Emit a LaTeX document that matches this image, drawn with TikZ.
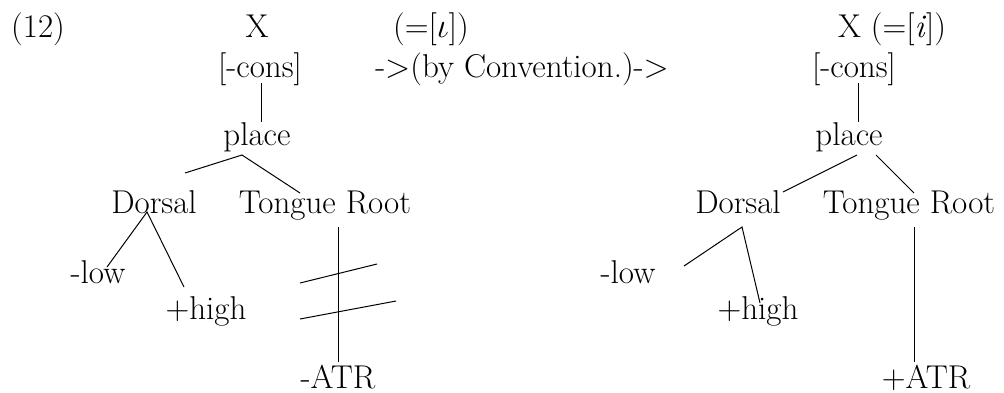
\documentclass[tikz,border=0pt]{standalone}
\usepackage{fontspec}
\begin{document}
\begin{tikzpicture}[x=0.5pt,y=-0.5pt,
  lbl/.style={anchor=base,inner sep=0pt,outer sep=0pt,font=\fontsize{16.5}{19}\selectfont},
  edge/.style={line width=0.5pt}]
\useasboundingbox (0,0) rectangle (1004,392);
% left tree
\node[lbl] (num) at (38,37) {(12)};
\node[lbl] (xl) at (257,37) {X};
\node[lbl] (eql) at (431,37) {(=[$\iota$])};
\node[lbl] (consl) at (260,77) {[-cons]};
\node[lbl] (conv) at (522,77) {->(by Convention.)->};
\node[lbl] (placel) at (257,145) {place};
\node[lbl] (dorl) at (154,213) {Dorsal};
\node[lbl] (trl) at (325,213) {Tongue Root};
\node[lbl] (lowl) at (98,283) {-low};
\node[lbl] (highl) at (206,319) {+high};
\node[lbl] (atrl) at (338,388) {-ATR};
% right tree
\node[lbl] (xr) at (892,37) {X (=[\textit{i}])};
\node[lbl] (consr) at (854,77) {[-cons]};
\node[lbl] (placer) at (849,145) {place};
\node[lbl] (dorr) at (738,213) {Dorsal};
\node[lbl] (trr) at (909,213) {Tongue Root};
\node[lbl] (lowr) at (628,283) {-low};
\node[lbl] (highr) at (758,319) {+high};
\node[lbl] (atrr) at (926,388) {+ATR};
% connector end points (left)
\coordinate (cl1) at (261,83);  \coordinate (pl0) at (261,122);
\coordinate (pl1) at (242,155); \coordinate (dl0) at (185,173);
\coordinate (tl0) at (300,193);
\coordinate (dl1) at (147,212); \coordinate (ll0) at (107,267);
\coordinate (hl0) at (184,287);
\coordinate (tl1) at (338,227); \coordinate (al0) at (338,362);
\coordinate (s1a) at (300,283); \coordinate (s1b) at (377,264);
\coordinate (s2a) at (300,319); \coordinate (s2b) at (396,301);
% connector end points (right)
\coordinate (cr1) at (858,83);  \coordinate (pr0) at (858,122);
\coordinate (pr1) at (857,155); \coordinate (dr0) at (783,192);
\coordinate (pr2) at (876,155); \coordinate (tr0) at (914,193);
\coordinate (dr1) at (742,227); \coordinate (lr0) at (684,266);
\coordinate (hr0) at (760,303);
\coordinate (tr1) at (914,227); \coordinate (ar0) at (914,362);
% left connectors
\draw[edge] (cl1) -- (pl0);
\draw[edge] (dl0) -- (pl1) -- (tl0);
\draw[edge] (ll0) -- (dl1) -- (hl0);
\draw[edge] (tl1) -- (al0);
\draw[edge] (s1a) -- (s1b);
\draw[edge] (s2a) -- (s2b);
% right connectors
\draw[edge] (cr1) -- (pr0);
\draw[edge] (pr1) -- (dr0);
\draw[edge] (pr2) -- (tr0);
\draw[edge] (lr0) -- (dr1) -- (hr0);
\draw[edge] (tr1) -- (ar0);
\end{tikzpicture}
\end{document}
